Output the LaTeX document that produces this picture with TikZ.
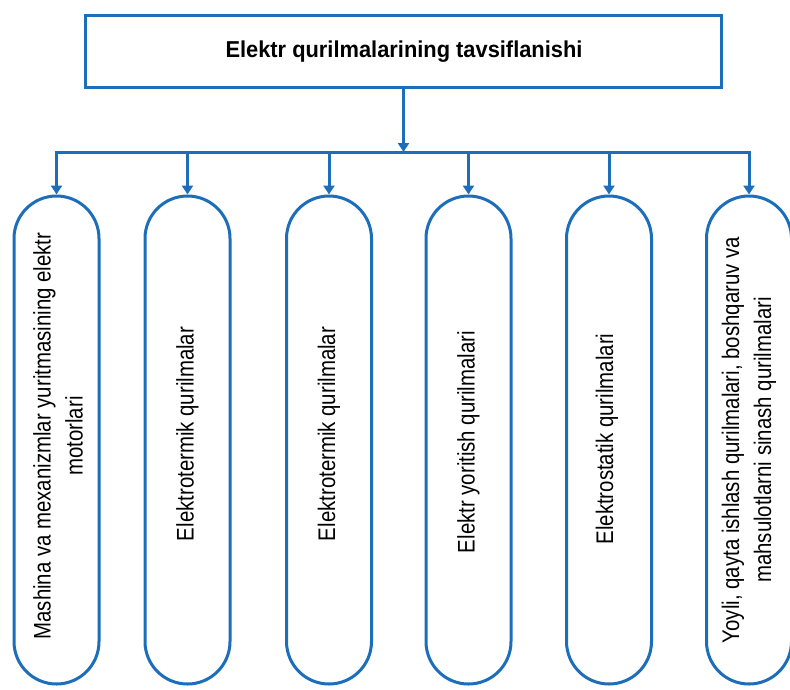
\documentclass[tikz,border=0pt]{standalone}
\usepackage{fontspec}
\setmainfont{Liberation Sans}
\newfontfamily\bodyfont[FakeStretch=0.85]{Liberation Sans}
\newfontfamily\titlefont[FakeStretch=0.95]{Liberation Sans}
\usetikzlibrary{arrows.meta}
\definecolor{lineblue}{RGB}{28,110,186}
\tikzset{
  topbox/.style={draw=lineblue, line width=3pt, minimum width=636pt, minimum height=72pt, inner sep=0pt},
  pill/.style={draw=lineblue, line width=3pt, minimum width=85pt, minimum height=488pt, rounded corners=42.5pt, inner sep=0pt},
  pilltext/.style={rotate=90, align=center, font=\bodyfont\fontsize{24}{32}\selectfont, inner sep=0pt},
  conn/.style={draw=lineblue, line width=3pt},
  arr/.style={conn, -{Triangle[length=9pt,width=11pt]}}
}
\begin{document}
\begin{tikzpicture}[x=1pt,y=-1pt]
\useasboundingbox (0,0) rectangle (790,689);
\node[topbox] (top) at (403.5,51.5) {};
\node[font=\titlefont\bfseries\fontsize{23}{27}\selectfont] (title) at (404,52) {Elektr qurilmalarining tavsiflanishi};
\node[pill] (b1) at (56.5,440) {};
\node[pill] (b2) at (187.5,440) {};
\node[pill] (b3) at (329,440) {};
\node[pill] (b4) at (468.5,440) {};
\node[pill] (b5) at (609,440) {};
\node[pill] (b6) at (749,440) {};
\node[pilltext] (t1) at (58,436) {Mashina va mexanizmlar yuritmasining elektr\\motorlari};
\node[pilltext] (t2) at (187.5,434) {Elektrotermik qurilmalar};
\node[pilltext] (t3) at (329,434) {Elektrotermik qurilmalar};
\node[pilltext] (t4) at (468.5,442) {Elektr yoritish qurilmalari};
\node[pilltext] (t5) at (607,439) {Elektrostatik qurilmalari};
\node[pilltext] (t6) at (749,440) {Yoyli, qayta ishlash qurilmalari, boshqaruv va\\mahsulotlarni sinash qurilmalari};
\coordinate (bus) at (403.5,152);
\draw[arr] (top.south) -- (bus);
\draw[conn, line cap=rect] (b1.north |- bus) -- (b6.north |- bus);
\foreach \b in {b1,b2,b3,b4,b5,b6}{
  \draw[arr] (\b.north |- bus) -- (\b.north);
}
\end{tikzpicture}
\end{document}
